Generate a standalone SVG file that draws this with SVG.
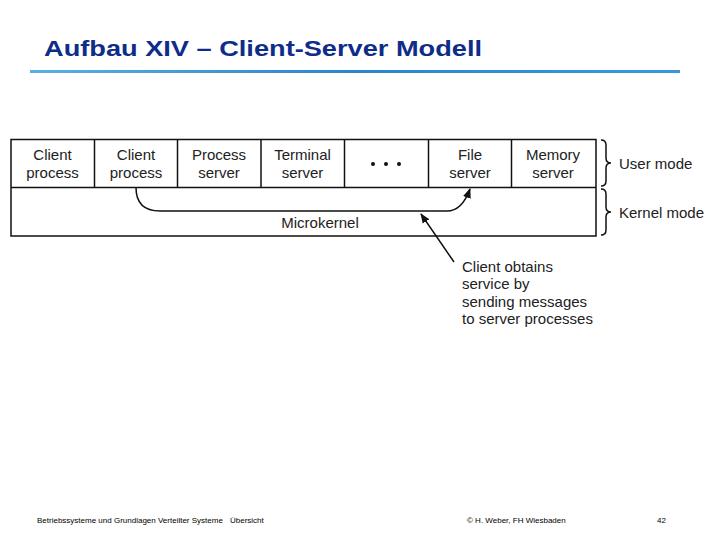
<svg xmlns="http://www.w3.org/2000/svg" width="720" height="540" viewBox="0 0 720 540">
<style>
.cell{font-family:"Liberation Sans",Arial,sans-serif;font-size:15px;fill:#222;text-anchor:middle}
.lbl{font-family:"Liberation Sans",Arial,sans-serif;font-size:15px;fill:#222}
.ft{font-family:"Liberation Sans",Arial,sans-serif;font-size:8px;fill:#000}
.bx{fill:none;stroke:#111;stroke-width:1.5}
.ln{fill:none;stroke:#111;stroke-width:1.5}
</style>
<defs>
<linearGradient id="rule" x1="30" x2="680" y1="0" y2="0" gradientUnits="userSpaceOnUse">
<stop offset="0" stop-color="#5ab0e0"/>
<stop offset="0.5" stop-color="#2a86c8"/>
<stop offset="1" stop-color="#3a9ad8"/>
</linearGradient>
<marker id="ah2" viewBox="0 0 10 10" refX="9" refY="5" markerWidth="10" markerHeight="10" orient="auto" markerUnits="userSpaceOnUse">
<path d="M0,1 L10,5 L0,9 z" fill="#111"/>
</marker>
</defs>
<rect width="720" height="540" fill="#fff"/>
<g id="title">
<text x="44" y="56" font-family="'Liberation Sans',Arial,sans-serif" font-weight="bold" font-size="22.5" fill="#0e2c8a" textLength="438" lengthAdjust="spacingAndGlyphs">Aufbau XIV – Client-Server Modell</text>
<rect x="30" y="70" width="650" height="3" fill="url(#rule)"/>
</g>
<g id="frame">
<rect class="bx" x="11" y="139.5" width="585" height="96.5"/>
<line class="bx" x1="11" y1="187.5" x2="596" y2="187.5"/>
<line class="bx" x1="94.5" y1="139.5" x2="94.5" y2="187.5"/>
<line class="bx" x1="177.5" y1="139.5" x2="177.5" y2="187.5"/>
<line class="bx" x1="261" y1="139.5" x2="261" y2="187.5"/>
<line class="bx" x1="344.5" y1="139.5" x2="344.5" y2="187.5"/>
<line class="bx" x1="428.5" y1="139.5" x2="428.5" y2="187.5"/>
<line class="bx" x1="511.5" y1="139.5" x2="511.5" y2="187.5"/>
</g>
<g id="n1"><text class="cell" x="52.5" y="160">Client</text><text class="cell" x="52.5" y="178">process</text></g>
<g id="n2"><text class="cell" x="136" y="160">Client</text><text class="cell" x="136" y="178">process</text></g>
<g id="n3"><text class="cell" x="219" y="160">Process</text><text class="cell" x="219" y="178">server</text></g>
<g id="n4"><text class="cell" x="302.5" y="160">Terminal</text><text class="cell" x="302.5" y="178">server</text></g>
<g id="n5"><circle cx="373" cy="164" r="2" fill="#111"/><circle cx="386" cy="164" r="2" fill="#111"/><circle cx="399" cy="164" r="2" fill="#111"/></g>
<g id="n6"><text class="cell" x="470" y="160">File</text><text class="cell" x="470" y="178">server</text></g>
<g id="n7"><text class="cell" x="553" y="160">Memory</text><text class="cell" x="553" y="178">server</text></g>
<g id="microkernel"><text class="cell" x="320" y="228">Microkernel</text></g>
<g id="modes">
<path class="ln" d="M601,140 Q606,140 606,145 L606,158 Q606,163 611,163 Q606,163 606,168 L606,181 Q606,186 601,186" stroke-width="1.2"/>
<path class="ln" d="M601,189 Q606,189 606,194 L606,207 Q606,212 611,212 Q606,212 606,217 L606,230 Q606,235 601,235" stroke-width="1.2"/>
<text class="lbl" x="619" y="169">User mode</text>
<text class="lbl" x="619" y="218">Kernel mode</text>
</g>
<g id="connectors">
<path class="ln" d="M136,187.5 Q136,211 160,211 L447,211 Q462,211 470,189" marker-end="url(#ah2)"/>
<line class="ln" x1="454" y1="262" x2="421" y2="214" stroke-width="1" marker-end="url(#ah2)"/>
</g>
<g id="note">
<text class="lbl" x="462" y="272">Client obtains</text>
<text class="lbl" x="462" y="289">service by</text>
<text class="lbl" x="462" y="307">sending messages</text>
<text class="lbl" x="462" y="324">to server processes</text>
</g>
<g id="footer">
<text class="ft" x="37" y="523">Betriebssysteme und Grundlagen Verteilter Systeme</text>
<text class="ft" x="230" y="523">Übersicht</text>
<text class="ft" x="467" y="523">© H. Weber, FH Wiesbaden</text>
<text class="ft" x="657" y="523">42</text>
</g>
</svg>
